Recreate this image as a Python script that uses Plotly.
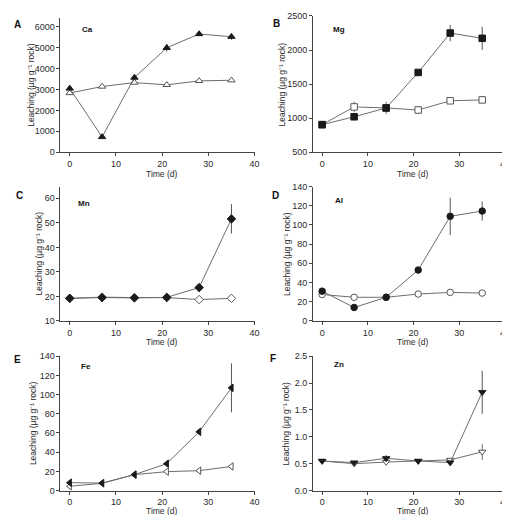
import plotly.graph_objects as go

W, H = 510, 515

time = [0, 7, 14, 21, 28, 35]

ca_treat = [3050, 730, 3570, 4990, 5650, 5520]
ca_treat_err = [80, 60, 100, 180, 80, 150]
ca_ctrl = [2830, 3140, 3330, 3220, 3410, 3440]
ca_ctrl_err = [60, 80, 70, 60, 50, 80]

mg_treat = [905, 1020, 1150, 1671, 2249, 2172]
mg_treat_err = [20, 20, 40, 20, 120, 170]
mg_ctrl = [905, 1165, 1150, 1120, 1255, 1268]
mg_ctrl_err = [20, 80, 90, 55, 35, 45]

mn_treat = [19.2, 19.5, 19.4, 19.6, 23.6, 51.6]
mn_treat_err = [0.4, 0.4, 0.4, 0.4, 0.5, 6.0]
mn_ctrl = [19.2, 19.7, 19.5, 19.5, 18.7, 19.2]
mn_ctrl_err = [0.5, 0.5, 0.8, 0.8, 0.8, 0.8]

al_treat = [31, 14, 24.6, 53, 109, 114.5]
al_treat_err = [1, 1, 1, 1.5, 19.5, 10]
al_ctrl = [27.5, 24.6, 24.6, 28, 29.7, 29]
al_ctrl_err = [1, 1, 1, 2, 2, 1]

fe_treat = [8.2, 7.8, 16.6, 28, 61.2, 107]
fe_treat_err = [0.5, 0.5, 1, 1.5, 3, 25.5]
fe_ctrl = [4.5, 7.5, 16.6, 19.7, 20.7, 25.1]
fe_ctrl_err = [0.5, 0.5, 1, 1, 1, 2]

zn_treat = [0.55, 0.52, 0.60, 0.55, 0.52, 1.83]
zn_treat_err = [0.02, 0.02, 0.06, 0.02, 0.02, 0.4]
zn_ctrl = [0.55, 0.50, 0.53, 0.55, 0.57, 0.72]
zn_ctrl_err = [0.02, 0.02, 0.04, 0.02, 0.03, 0.15]

panel_letters = ["A", "B", "C", "D", "E", "F"]
elements = ["Ca", "Mg", "Mn", "Al", "Fe", "Zn"]
symbols = ["triangle-up", "square", "diamond", "circle", "triangle-left", "triangle-down"]
y_ranges = [[0, 6420], [500, 2500], [10, 64.8], [0, 140], [0, 140], [0, 2.5]]
y_dticks = [1000, 500, 10, 20, 20, 0.5]
y_tick0 = [0, 500, 10, 0, 0, 0]
y_formats = ["d", "d", "d", "d", "d", ".1f"]
x_ticks = [0, 10, 20, 30, 40]
y_title = "Leaching (µg g⁻¹ rock)"
x_title = "Time (d)"

series = [
    (ca_treat, ca_treat_err, ca_ctrl, ca_ctrl_err),
    (mg_treat, mg_treat_err, mg_ctrl, mg_ctrl_err),
    (mn_treat, mn_treat_err, mn_ctrl, mn_ctrl_err),
    (al_treat, al_treat_err, al_ctrl, al_ctrl_err),
    (fe_treat, fe_treat_err, fe_ctrl, fe_ctrl_err),
    (zn_treat, zn_treat_err, zn_ctrl, zn_ctrl_err),
]

# layout geometry in pixels
col_x = [(53, 249), (308, 502)]
row_y = [(5, 142), (177, 314), (350, 487)]
row_top_override = {1: 3}

def px_x(p):
    return p / W

def px_y(p):
    return 1 - p / H

FONT = "Liberation Sans, Arial, sans-serif"
AX = "#444444"
LINE = "#6e6e6e"
TXT = "#2a2a2a"

fig = go.Figure()
layout = dict(
    width=W, height=H, margin=dict(l=0, r=0, t=0, b=0),
    paper_bgcolor="white", plot_bgcolor="white", showlegend=False,
    font=dict(family=FONT, size=9, color=TXT),
)
annotations = []

ytitle_x = [23, 277, 31, 281, 26, 281]
letter_pos = [(4, 12), (266, 11), (6, 186), (265, 186), (4, 353), (263, 352)]
elem_pos = [(73, 17), (326, 17), (69, 194), (328, 191), (72, 360), (327, 358)]
xtitle_dy = [22, 22, 21]

for i in range(6):
    r, c = i // 2, i % 2
    xa = "x" if i == 0 else f"x{i+1}"
    ya = "y" if i == 0 else f"y{i+1}"
    xk = "xaxis" if i == 0 else f"xaxis{i+1}"
    yk = "yaxis" if i == 0 else f"yaxis{i+1}"
    top, bot = row_y[r]
    if i in row_top_override:
        top = row_top_override[i]
    x0, x1 = col_x[c]
    layout[xk] = dict(
        domain=[px_x(x0), px_x(x1)], anchor=ya, range=[-2, 40],
        tickvals=x_ticks, ticks="outside", ticklen=3, tickcolor=AX,
        showline=True, linecolor=AX, linewidth=1, showgrid=False, zeroline=False,
        tickfont=dict(size=9, color=TXT), ticklabeloverflow="allow",
    )
    layout[yk] = dict(
        domain=[px_y(bot), px_y(top)], anchor=xa, range=y_ranges[i],
        tick0=y_tick0[i], dtick=y_dticks[i], tickformat=y_formats[i],
        ticks="outside", ticklen=3, tickcolor=AX,
        showline=True, linecolor=AX, linewidth=1, showgrid=False, zeroline=False,
        tickfont=dict(size=9, color=TXT), ticklabeloverflow="allow",
    )
    treat, terr, ctrl, cerr = series[i]
    fig.add_trace(go.Scatter(
        x=time, y=ctrl, xaxis=xa, yaxis=ya, mode="lines+markers",
        line=dict(color=LINE, width=1),
        marker=dict(symbol=symbols[i], size=6.5, color="white", line=dict(color="#555555", width=1)),
        error_y=dict(type="data", array=cerr, visible=True, color=LINE, thickness=1, width=0),
    ))
    fig.add_trace(go.Scatter(
        x=time, y=treat, xaxis=xa, yaxis=ya, mode="lines+markers",
        line=dict(color=LINE, width=1),
        marker=dict(symbol=symbols[i], size=6.5, color="#1a1a1a", line=dict(color="#1a1a1a", width=1)),
        error_y=dict(type="data", array=terr, visible=True, color="#555555", thickness=1, width=0),
    ))
    # y title
    annotations.append(dict(
        xref="paper", yref="paper", x=px_x(ytitle_x[i]), y=px_y((top + bot) / 2),
        text=y_title, textangle=-90, showarrow=False,
        xanchor="center", yanchor="middle", font=dict(size=8.5, color=TXT),
    ))
    # x title
    annotations.append(dict(
        xref="paper", yref="paper", x=px_x((x0 + x1) / 2 + 4),
        y=px_y(bot + xtitle_dy[r]), text=x_title, showarrow=False,
        xanchor="center", yanchor="middle", font=dict(size=8.5, color=TXT),
    ))
    lx, ly = letter_pos[i]
    annotations.append(dict(
        xref="paper", yref="paper", x=px_x(lx), y=px_y(ly), text=f"<b>{panel_letters[i]}</b>",
        showarrow=False, xanchor="left", yanchor="middle", font=dict(size=10, color="#111111"),
    ))
    ex, ey = elem_pos[i]
    annotations.append(dict(
        xref="paper", yref="paper", x=px_x(ex), y=px_y(ey), text=f"<b>{elements[i]}</b>",
        showarrow=False, xanchor="left", yanchor="middle", font=dict(size=8, color="#111111"),
    ))

layout["annotations"] = annotations
fig.update_layout(**layout)
fig.write_html("out.html")
